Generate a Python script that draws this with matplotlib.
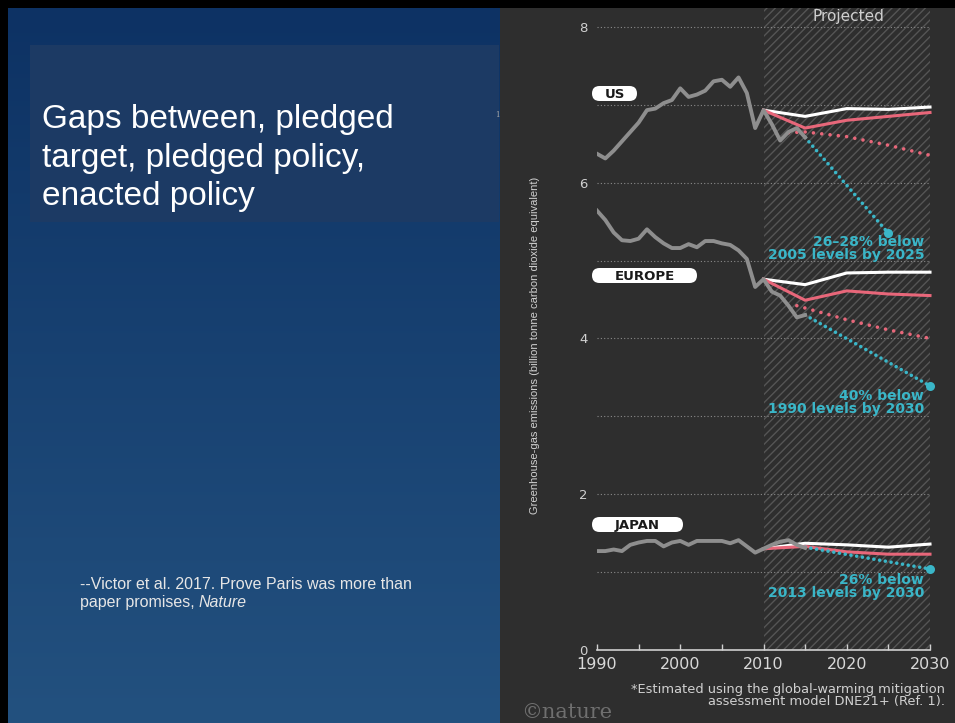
import numpy as np
import matplotlib.pyplot as plt
from matplotlib.patches import Rectangle, FancyBboxPatch
from matplotlib.colors import LinearSegmentedColormap

W, H = 955, 723

# ---------- data (billion tonne CO2e) ----------
hist_years = np.arange(1990, 2016)
us_hist = [6.37, 6.31, 6.41, 6.53, 6.65, 6.77, 6.93, 6.95, 7.02, 7.06,
           7.21, 7.10, 7.13, 7.18, 7.30, 7.32, 7.23, 7.35, 7.15, 6.70,
           6.93, 6.75, 6.54, 6.65, 6.70, 6.58]
eu_hist = [5.64, 5.52, 5.36, 5.26, 5.25, 5.28, 5.40, 5.30, 5.22, 5.16,
           5.16, 5.21, 5.17, 5.25, 5.25, 5.22, 5.20, 5.13, 5.02, 4.66,
           4.76, 4.60, 4.55, 4.42, 4.27, 4.30]
jp_hist = [1.27, 1.27, 1.29, 1.27, 1.35, 1.38, 1.40, 1.40, 1.33, 1.38,
           1.40, 1.35, 1.40, 1.40, 1.40, 1.40, 1.37, 1.41, 1.33, 1.25,
           1.30, 1.35, 1.39, 1.41, 1.35, 1.31]

proj_years = [2010, 2015, 2020, 2025, 2030]
us_white = [6.93, 6.85, 6.95, 6.94, 6.97]
us_pink = [6.93, 6.70, 6.80, 6.85, 6.90]
eu_white = [4.76, 4.69, 4.84, 4.85, 4.85]
eu_pink = [4.76, 4.49, 4.61, 4.57, 4.55]
jp_white = [1.30, 1.37, 1.35, 1.32, 1.36]
jp_pink = [1.30, 1.33, 1.26, 1.23, 1.23]

us_dot_years = [2013, 2015, 2020, 2025, 2030]
us_dot = [6.64, 6.65, 6.59, 6.48, 6.35]
eu_dot_years = [2014, 2015, 2020, 2025, 2030]
eu_dot = [4.42, 4.39, 4.24, 4.11, 4.00]

us_target_years = [2015, 2025]
us_target = [6.58, 5.35]
eu_target_years = [2015, 2030]
eu_target = [4.30, 3.39]
jp_target_years = [2015, 2030]
jp_target = [1.32, 1.04]

us_note = "26\u201328% below\n2005 levels by 2025"
eu_note = "40% below\n1990 levels by 2030"
jp_note = "26% below\n2013 levels by 2030"
note_y = [5.15, 3.18, 0.82]

region_names = ["US", "EUROPE", "JAPAN"]

title_lines = ["Gaps between, pledged", "target, pledged policy,", "enacted policy"]
cite_line1 = "--Victor et al. 2017. Prove Paris was more than"
cite_line2 = "paper promises, "
cite_journal = "Nature"
footnote = ("*Estimated using the global-warming mitigation\n"
            "assessment model DNE21+ (Ref. 1).")
ylabel = "Greenhouse-gas emissions (billion tonne carbon dioxide equivalent)"

GRAY = "#8e8e8e"
PINK = "#e8677a"
CYAN = "#3ab6c8"
PANEL = "#2e2e2e"

fig = plt.figure(figsize=(W / 100, H / 100), dpi=100, facecolor="black")

# ---------- background layer in pixel coordinates ----------
bg = fig.add_axes([0, 0, 1, 1])
bg.set_zorder(-1)
bg.axis("off")
cmap = LinearSegmentedColormap.from_list("slide", ["#0d3264", "#23517f"])
bg.imshow(np.linspace(0, 1, 256)[:, None], extent=[8, 500, 723, 8],
          cmap=cmap, aspect="auto", zorder=0)
bg.add_patch(Rectangle((30, 45), 469, 177, color="#1c3a64", lw=0, zorder=1))
bg.add_patch(Rectangle((500, 8), 455, 715, color=PANEL, lw=0, zorder=1))
bg.set_xlim(0, W)
bg.set_ylim(H, 0)

for i, line in enumerate(title_lines):
    bg.text(42, 128 + 38.5 * i, line, fontsize=24, color="white",
            family="Liberation Sans", va="baseline", ha="left", zorder=3)
bg.text(80, 589, cite_line1, fontsize=11.5, color="#e6e6e6",
        family="Liberation Sans", va="baseline", zorder=3)
bg.text(80, 607, cite_line2, fontsize=11.5, color="#e6e6e6",
        family="Liberation Sans", va="baseline", zorder=3)
bg.text(198, 607, cite_journal, fontsize=11.5, color="#e6e6e6", style="italic",
        family="Liberation Sans", va="baseline", zorder=3)
bg.text(497, 115, "1", fontsize=5, color="#aaaaaa", family="DejaVu Serif",
        ha="center", va="center", zorder=3)

bg.text(535, 345, ylabel, rotation=90, ha="center", va="center", fontsize=8,
        color="#d0d0d0", family=["Liberation Sans Narrow", "Liberation Sans"], zorder=3)
bg.text(945, 683, footnote, ha="right", va="top", fontsize=9.4, color="#d0d0d0",
        linespacing=0.86, zorder=3)
bg.text(521, 713, "\u00a9nature", fontsize=15, family="DejaVu Serif",
        color="#6f6f6f", va="center", zorder=3)

# region name pills
pills = [(592, 86, 45), (592, 268, 105), (592, 517, 91)]
for (x0, y0, w), name in zip(pills, region_names):
    bg.add_patch(FancyBboxPatch((x0, y0), w, 15, boxstyle="round,pad=0,rounding_size=7.5",
                                fc="white", ec="none", zorder=3))
    bg.text(x0 + w / 2, y0 + 7.5, name, ha="center", va="center_baseline", fontsize=9.5,
            fontweight="bold", color="#1a1a1a", zorder=4)

# ---------- chart ----------
px_per_unit = 77.9
ax = fig.add_axes([597 / W, 1 - 650 / H, 333 / W, 642 / H])
ax.patch.set_visible(False)
ax.set_xlim(1990, 2030)
ax.set_ylim(0, 642 / px_per_unit)
for s in ["top", "right", "left"]:
    ax.spines[s].set_visible(False)
ax.spines["bottom"].set_color("#d0d0d0")
ax.spines["bottom"].set_linewidth(1.2)

plt.rcParams["hatch.linewidth"] = 1.0
ax.axvspan(2010, 2030, facecolor="none", edgecolor="#555555", hatch="////", lw=0, zorder=0.5)
ax.hlines(range(1, 9), 1990, 2030, colors="#8a8a8a", linestyles=(0, (1, 2)), lw=0.8, zorder=1)

ax.set_yticks([0, 2, 4, 6, 8])
ax.tick_params(axis="y", length=0, pad=7, labelsize=9.5, labelcolor="#d0d0d0")
xt = list(range(1990, 2031, 5))
ax.set_xticks(xt)
ax.set_xticklabels([str(y) if y % 10 == 0 else "" for y in xt])
ax.tick_params(axis="x", direction="in", length=4, width=1, color="#d0d0d0",
               pad=5, labelsize=11.5, labelcolor="#d8d8d8")

pink_dots = (0, (0.01, 2.3))
cyan_dots = (0, (0.01, 1.6))

series = [
    (us_white, us_pink, us_dot_years, us_dot, us_target_years, us_target, us_hist),
    (eu_white, eu_pink, eu_dot_years, eu_dot, eu_target_years, eu_target, eu_hist),
    (jp_white, jp_pink, None, None, jp_target_years, jp_target, jp_hist),
]
for white, pink, dyrs, dvals, tyrs, tvals, hist in series:
    ax.plot(proj_years, white, color="white", lw=2.2, zorder=3, clip_on=False)
    ax.plot(proj_years, pink, color=PINK, lw=2.2, zorder=3, clip_on=False)
    if dyrs is not None:
        ax.plot(dyrs, dvals, color=PINK, lw=2.6, ls=pink_dots, dash_capstyle="round",
                zorder=3, clip_on=False)
    ax.plot(tyrs, tvals, color=CYAN, lw=2.6, ls=cyan_dots, dash_capstyle="round",
            zorder=4, clip_on=False)
    ax.plot(tyrs[-1], tvals[-1], "o", ms=6.5, color=CYAN, mec="none", zorder=5, clip_on=False)
    ax.plot(hist_years, hist, color=GRAY, lw=2.8, zorder=4, solid_joinstyle="round")

for note, ny in zip([us_note, eu_note, jp_note], note_y):
    ax.text(2029.3, ny, note, ha="right", va="center", color=CYAN, fontsize=10,
            fontweight="bold", linespacing=0.92, zorder=6)

ax.text(848, 16, "Projected", transform=bg.transData, ha="center", va="center",
        fontsize=11, color="#cfcfcf", zorder=6, clip_on=False)

fig.savefig("out.png", dpi=100, facecolor=fig.get_facecolor())
